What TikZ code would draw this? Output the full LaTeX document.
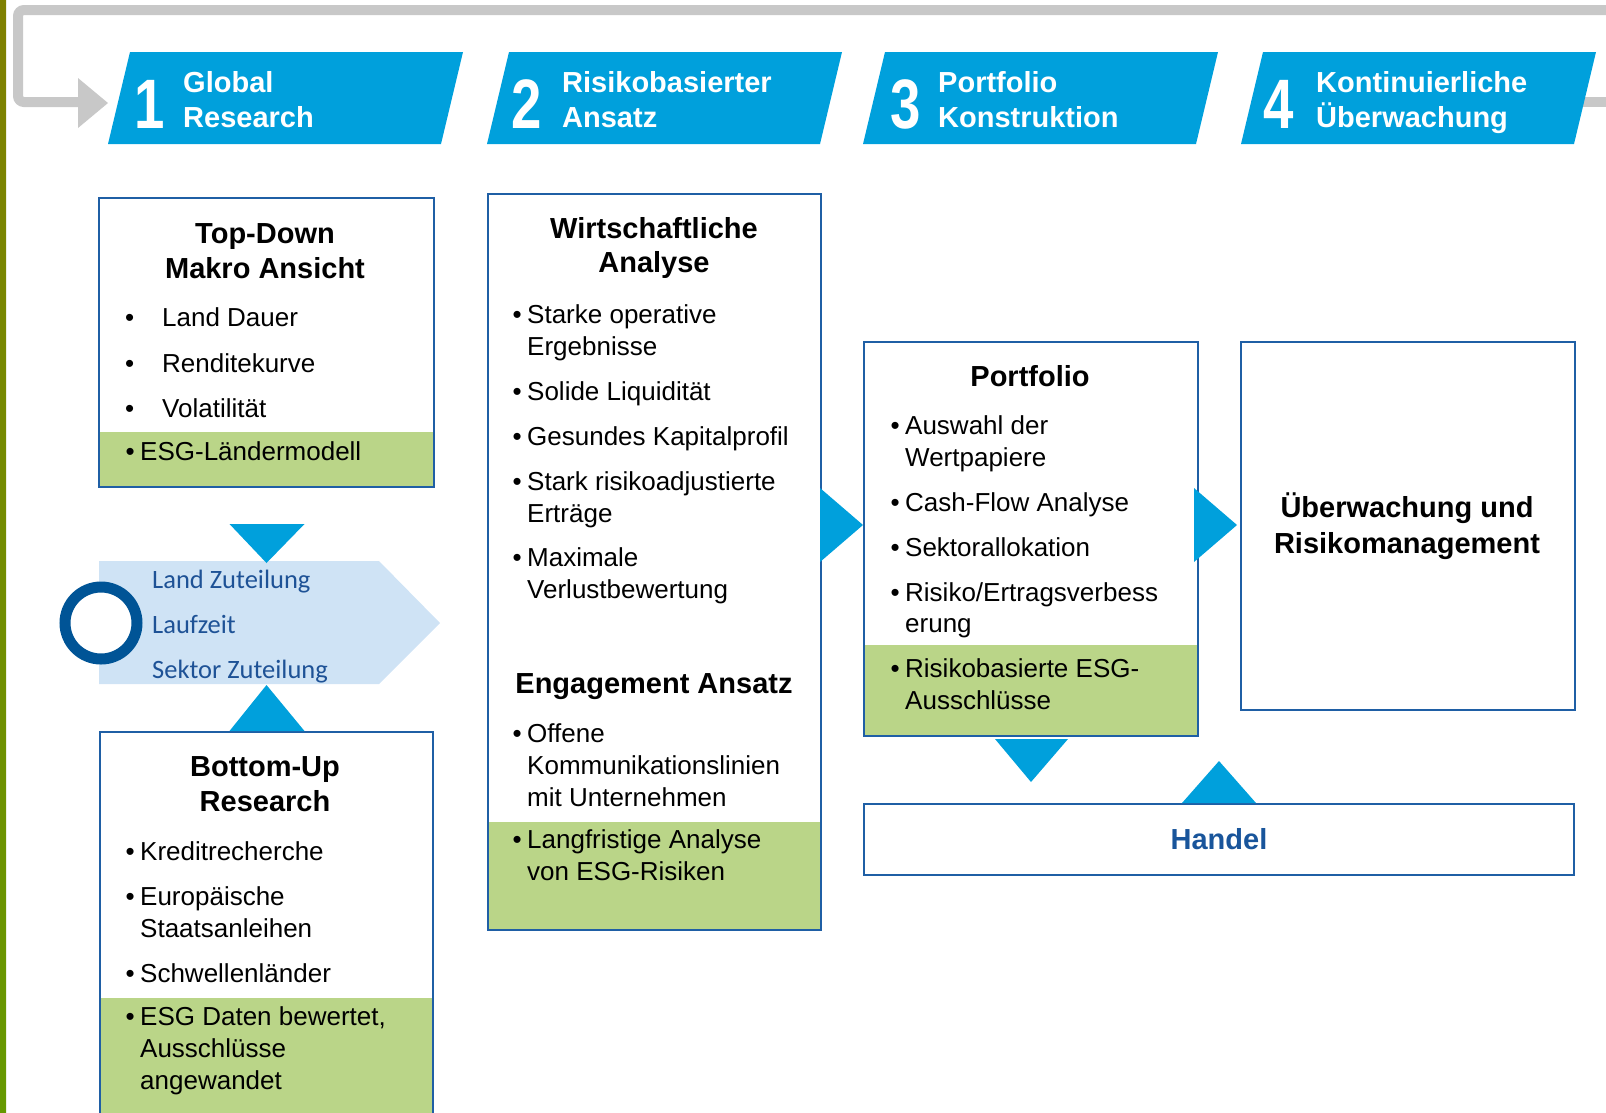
\documentclass[tikz,border=0pt]{standalone}
\usepackage{fontspec}
\setmainfont{Liberation Sans}
\newfontfamily\calfont{Carlito}
\usetikzlibrary{calc,positioning}

\definecolor{stepblue}{RGB}{0,160,220}
\definecolor{framegray}{RGB}{200,200,200}
\definecolor{boxline}{RGB}{31,95,165}
\definecolor{esggreen}{RGB}{186,213,136}
\definecolor{allocfill}{RGB}{207,227,245}
\definecolor{ringblue}{RGB}{0,84,150}
\definecolor{alloctext}{RGB}{30,82,150}
\definecolor{tradeblue}{RGB}{25,85,155}

\newcommand{\bodysize}{\fontsize{26}{32}\selectfont}
\newcommand{\headsize}{\fontsize{29}{35}\selectfont\bfseries}
\newcommand{\dotitem}{\llap{\textbullet\hspace{5.5pt}}}
\newcommand{\wideitem}{\llap{\textbullet\hspace{28pt}}}

\tikzset{
  panel/.style={draw=boxline, line width=2pt, anchor=north west, inner sep=0pt},
  head/.style={font=\headsize, anchor=base, inner sep=0pt},
  txt/.style={font=\bodysize, anchor=base west, inner sep=0pt},
  steptxt/.style={font=\headsize, text=white, anchor=base west, inner sep=0pt},
  stepnum/.style={font=\fontsize{70}{70}\selectfont\bfseries, text=white, anchor=base, inner sep=0pt},
  alloc/.style={font=\calfont\fontsize{26.5}{32}\selectfont, text=alloctext, anchor=base west, inner sep=0pt},
  pointer/.style={fill=stepblue}
}

\begin{document}
\begin{tikzpicture}[x=1pt,y=-1pt]
\useasboundingbox (0,0) rectangle (1606,1112);
\clip (0,0) rectangle (1606,1112);

% photo edge
\shade[top color=olive!70!gray, middle color=green!60!olive, bottom color=olive!80!green] (0,0) rectangle (6,1112);

% feedback loop
\draw[framegray, line width=10pt, rounded corners=6pt] (1620,10) -- (18,10) -- (18,102) -- (82,102);
\fill[framegray] (78,78) -- (108,103) -- (78,128) -- cycle;
\draw[framegray, line width=10pt] (1580,102) -- (1620,102);

% process steps
\fill[stepblue] (130,52) -- (463,52) -- (441,144) -- (108,144) -- cycle;
\node[stepnum] (n1) at (150,128) {\scalebox{0.78}[1]{1}};
\node[steptxt] (s1a) at (183,92) {Global};
\node[steptxt] (s1b) at (183,127) {Research};

\fill[stepblue] (509,52) -- (842,52) -- (820,144) -- (487,144) -- cycle;
\node[stepnum] (n2) at (527,128) {\scalebox{0.78}[1]{2}};
\node[steptxt] (s2a) at (562,92) {Risikobasierter};
\node[steptxt] (s2b) at (562,127) {Ansatz};

\fill[stepblue] (885,52) -- (1218,52) -- (1196,144) -- (863,144) -- cycle;
\node[stepnum] (n3) at (906,128) {\scalebox{0.78}[1]{3}};
\node[steptxt] (s3a) at (938,92) {Portfolio};
\node[steptxt] (s3b) at (938,127) {Konstruktion};

\fill[stepblue] (1263,52) -- (1596,52) -- (1574,144) -- (1241,144) -- cycle;
\node[stepnum] (n4) at (1279,128) {\scalebox{0.78}[1]{4}};
\node[steptxt] (s4a) at (1316,92) {Kontinuierliche};
\node[steptxt] (s4b) at (1316,127) {Überwachung};

% ESG rows
\fill[esggreen] (98,432) rectangle (433,486);
\fill[esggreen] (99,998) rectangle (432,1130);
\fill[esggreen] (487,822) rectangle (820,929);
\fill[esggreen] (863,645) rectangle (1199,735);

% panels
\node[panel, minimum width=335pt, minimum height=289pt] (topdown) at (98,197) {};
\node[panel, minimum width=333pt, minimum height=420pt] (bottomup) at (99,731) {};
\node[panel, minimum width=333pt, minimum height=736pt] (analyse) at (487,193) {};
\node[panel, minimum width=334pt, minimum height=394pt] (portfolio) at (863,341) {};
\node[panel, minimum width=334pt, minimum height=368pt] (monitor) at (1240,341) {};
\node[panel, minimum width=710pt, minimum height=71pt, font=\headsize, text=tradeblue] (handel) at (863,803) {Handel};

% allocation arrow
\fill[allocfill] (99,561) -- (379,561) -- (440,623) -- (379,684) -- (99,684) -- cycle;
\draw[ringblue, line width=11pt, fill=white] (101,623) circle[radius=36];
\node[alloc] (al1) at (152,588) {Land Zuteilung};
\node[alloc] (al2) at (152,633) {Laufzeit};
\node[alloc] (al3) at (152,678) {Sektor Zuteilung};

% pointers between panels
\fill[pointer] ($(topdown.south)+(-37,36)$) -- ($(topdown.south)+(38,36)$) -- ($(topdown.south)+(0,75)$) -- cycle;
\fill[pointer] ($(bottomup.north)+(-37,0)$) -- ($(bottomup.north)+(38,0)$) -- ($(bottomup.north)+(0,-46)$) -- cycle;
\fill[pointer] ($(portfolio.north west)+(-43,147)$) -- ($(portfolio.north west)+(0,184)$) -- ($(portfolio.north west)+(-43,221)$) -- cycle;
\fill[pointer] ($(monitor.north west)+(-46,147)$) -- ($(monitor.north west)+(-3,184)$) -- ($(monitor.north west)+(-46,221)$) -- cycle;
\fill[pointer] ($(portfolio.south)+(-36,2)$) -- ($(portfolio.south)+(37,2)$) -- ($(portfolio.south)+(0,45)$) -- cycle;
\fill[pointer] ($(handel.north)+(-37,0)$) -- ($(handel.north)+(37,0)$) -- ($(handel.north)+(0,-42)$) -- cycle;

% top-down panel
\node[head] (td1) at (265,243) {Top-Down};
\node[head] (td2) at (265,278) {Makro Ansicht};
\foreach \y/\t [count=\i] in {326/Land Dauer, 372/Renditekurve, 417/Volatilität}
  \node[txt] (td\i) at (162,\y) {\wideitem\t};
\node[txt] (tdesg) at (140,460) {\dotitem ESG-Ländermodell};

% bottom-up panel
\node[head] (bu1) at (265,776) {Bottom-Up};
\node[head] (bu2) at (265,811) {Research};
\foreach \y/\t [count=\i] in {860/\dotitem Kreditrecherche, 905/\dotitem Europäische, 937/Staatsanleihen,
    982/\dotitem Schwellenländer, 1025/{\dotitem ESG Daten bewertet,}, 1057/Ausschlüsse, 1089/angewandet}
  \node[txt] (bu\i) at (140,\y) {\t};

% analysis panel
\node[head] (an1) at (654,238) {Wirtschaftliche};
\node[head] (an2) at (654,272) {Analyse};
\foreach \y/\t [count=\i] in {323/\dotitem Starke operative, 355/Ergebnisse, 400/\dotitem Solide Liquidität,
    445/\dotitem Gesundes Kapitalprofil, 490/\dotitem Stark risikoadjustierte, 522/Erträge,
    566/\dotitem Maximale, 598/Verlustbewertung}
  \node[txt] (an\i) at (527,\y) {\t};
\node[head] (en1) at (654,693) {Engagement Ansatz};
\foreach \y/\t [count=\i] in {742/\dotitem Offene, 774/Kommunikationslinien, 806/mit Unternehmen,
    848/\dotitem Langfristige Analyse, 880/von ESG-Risiken}
  \node[txt] (en\i) at (527,\y) {\t};

% portfolio panel
\node[head] (pf1) at (1030,386) {Portfolio};
\foreach \y/\t [count=\i] in {434/\dotitem Auswahl der, 466/Wertpapiere, 511/\dotitem Cash-Flow Analyse,
    556/\dotitem Sektorallokation, 601/{\dotitem Risiko/Ertragsverbess}, 632/erung,
    677/\dotitem Risikobasierte ESG-, 709/Ausschlüsse}
  \node[txt] (pf\i) at (905,\y) {\t};

% monitoring panel
\node[head] (mo1) at (1407,517) {Überwachung und};
\node[head] (mo2) at (1407,553) {Risikomanagement};
\end{tikzpicture}
\end{document}
